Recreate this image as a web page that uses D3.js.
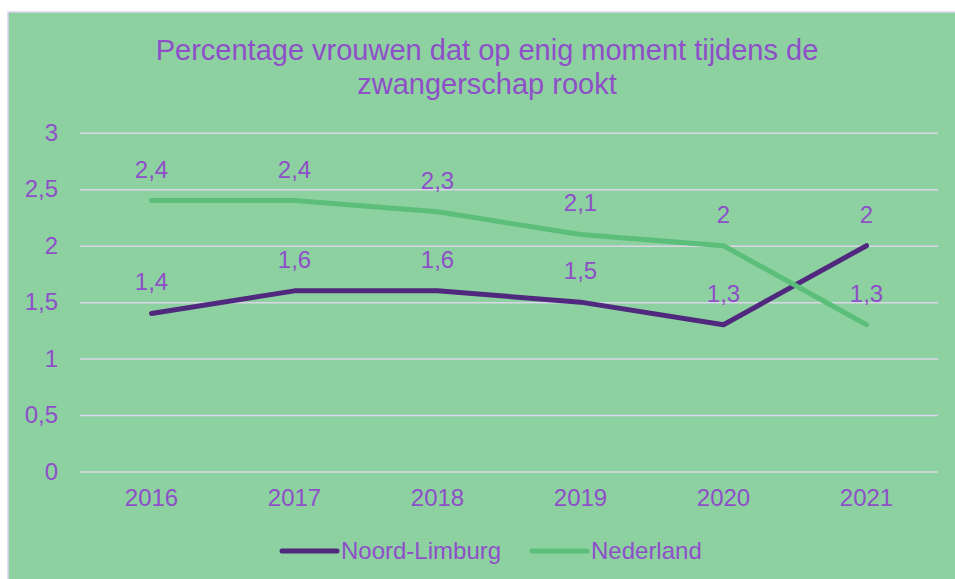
<!DOCTYPE html>
<html>
<head>
<meta charset="utf-8">
<script src="https://cdn.jsdelivr.net/npm/d3@7"></script>
<style>
    body { margin: 0; background: #ffffff; }
    text { font-family: Arial, 'Liberation Sans', sans-serif; fill: #8e4fc8; }
</style>
</head>
<body>
<svg id="chart-svg"></svg>
<script>
// data
const years = ['2016', '2017', '2018', '2019', '2020', '2021'];
const noordLimburg = [1.4, 1.6, 1.6, 1.5, 1.3, 2];
const nederland = [2.4, 2.4, 2.3, 2.1, 2, 1.3];
const yTicks = [0, 0.5, 1, 1.5, 2, 2.5, 3];
const titleLines = ['Percentage vrouwen dat op enig moment tijdens de', 'zwangerschap rookt'];
const seriesNames = ['Noord-Limburg', 'Nederland'];

const width = 955;
const height = 579;
const lineColors = ['#50287e', '#5bbf7a'];

const svg = d3.select('#chart-svg')
    .attr('width', width)
    .attr('height', height);

// achtergrond
svg.append('rect')
    .attr('x', 8)
    .attr('y', 12)
    .attr('width', width)
    .attr('height', height)
    .attr('fill', '#8dd1a1')
    .attr('stroke', '#ddd2ee')
    .attr('stroke-width', 1.5);

const x = d3.scaleBand().domain(years).range([80, 938]);
const y = d3.scaleLinear().domain([0, 3]).range([471.5, 132.8]);
const fmt = (v) => String(v).replace('.', ',');

// titel
svg.append('g').selectAll('text')
    .data(titleLines)
    .enter().append('text')
    .attr('x', 487)
    .attr('y', (d, i) => 60 + i * 34)
    .attr('text-anchor', 'middle')
    .attr('font-size', 29)
    .text((d) => d);

// rasterlijnen
const yAxis = d3.axisLeft(y)
    .tickValues(yTicks)
    .tickSize(-(938 - 80))
    .tickPadding(22)
    .tickFormat(fmt);
const yG = svg.append('g').attr('transform', 'translate(80,0)').call(yAxis);
yG.select('.domain').remove();
yG.selectAll('line').attr('stroke', '#dcd6ea').attr('stroke-width', 1.5);
yG.selectAll('text')
    .attr('font-size', 24)
    .attr('font-family', null)
    .attr('fill', null);

const xAxis = d3.axisBottom(x).tickSize(0).tickPadding(17);
const xG = svg.append('g').attr('transform', 'translate(0,471.5)').call(xAxis);
xG.select('.domain').remove();
xG.selectAll('text')
    .attr('font-size', 24)
    .attr('font-family', null)
    .attr('fill', null);

// lijnen
const series = [noordLimburg, nederland];
const line = d3.line()
    .x((d, i) => x(years[i]) + x.bandwidth() / 2)
    .y((d) => y(d));

series.forEach((values, s) => {
    svg.append('path')
        .datum(values)
        .attr('d', line)
        .attr('fill', 'none')
        .attr('stroke', lineColors[s])
        .attr('stroke-width', 5)
        .attr('stroke-linecap', 'round')
        .attr('stroke-linejoin', 'round');
});

// datalabels
series.forEach((values, s) => {
    svg.append('g').selectAll('text')
        .data(values)
        .enter().append('text')
        .attr('x', (d, i) => x(years[i]) + x.bandwidth() / 2)
        .attr('y', (d) => y(d) - 23)
        .attr('text-anchor', 'middle')
        .attr('font-size', 24)
        .text(fmt);
});

// legenda
const legendX = [282, 532];
const legend = svg.append('g').selectAll('g')
    .data(seriesNames)
    .enter().append('g')
    .attr('transform', (d, i) => 'translate(' + legendX[i] + ',551)');
legend.append('line')
    .attr('x1', 0)
    .attr('x2', 55)
    .attr('stroke', (d, i) => lineColors[i])
    .attr('stroke-width', 5)
    .attr('stroke-linecap', 'round');
legend.append('text')
    .attr('x', 59)
    .attr('dy', '0.35em')
    .attr('font-size', 24)
    .text((d) => d);
</script>
</body>
</html>
